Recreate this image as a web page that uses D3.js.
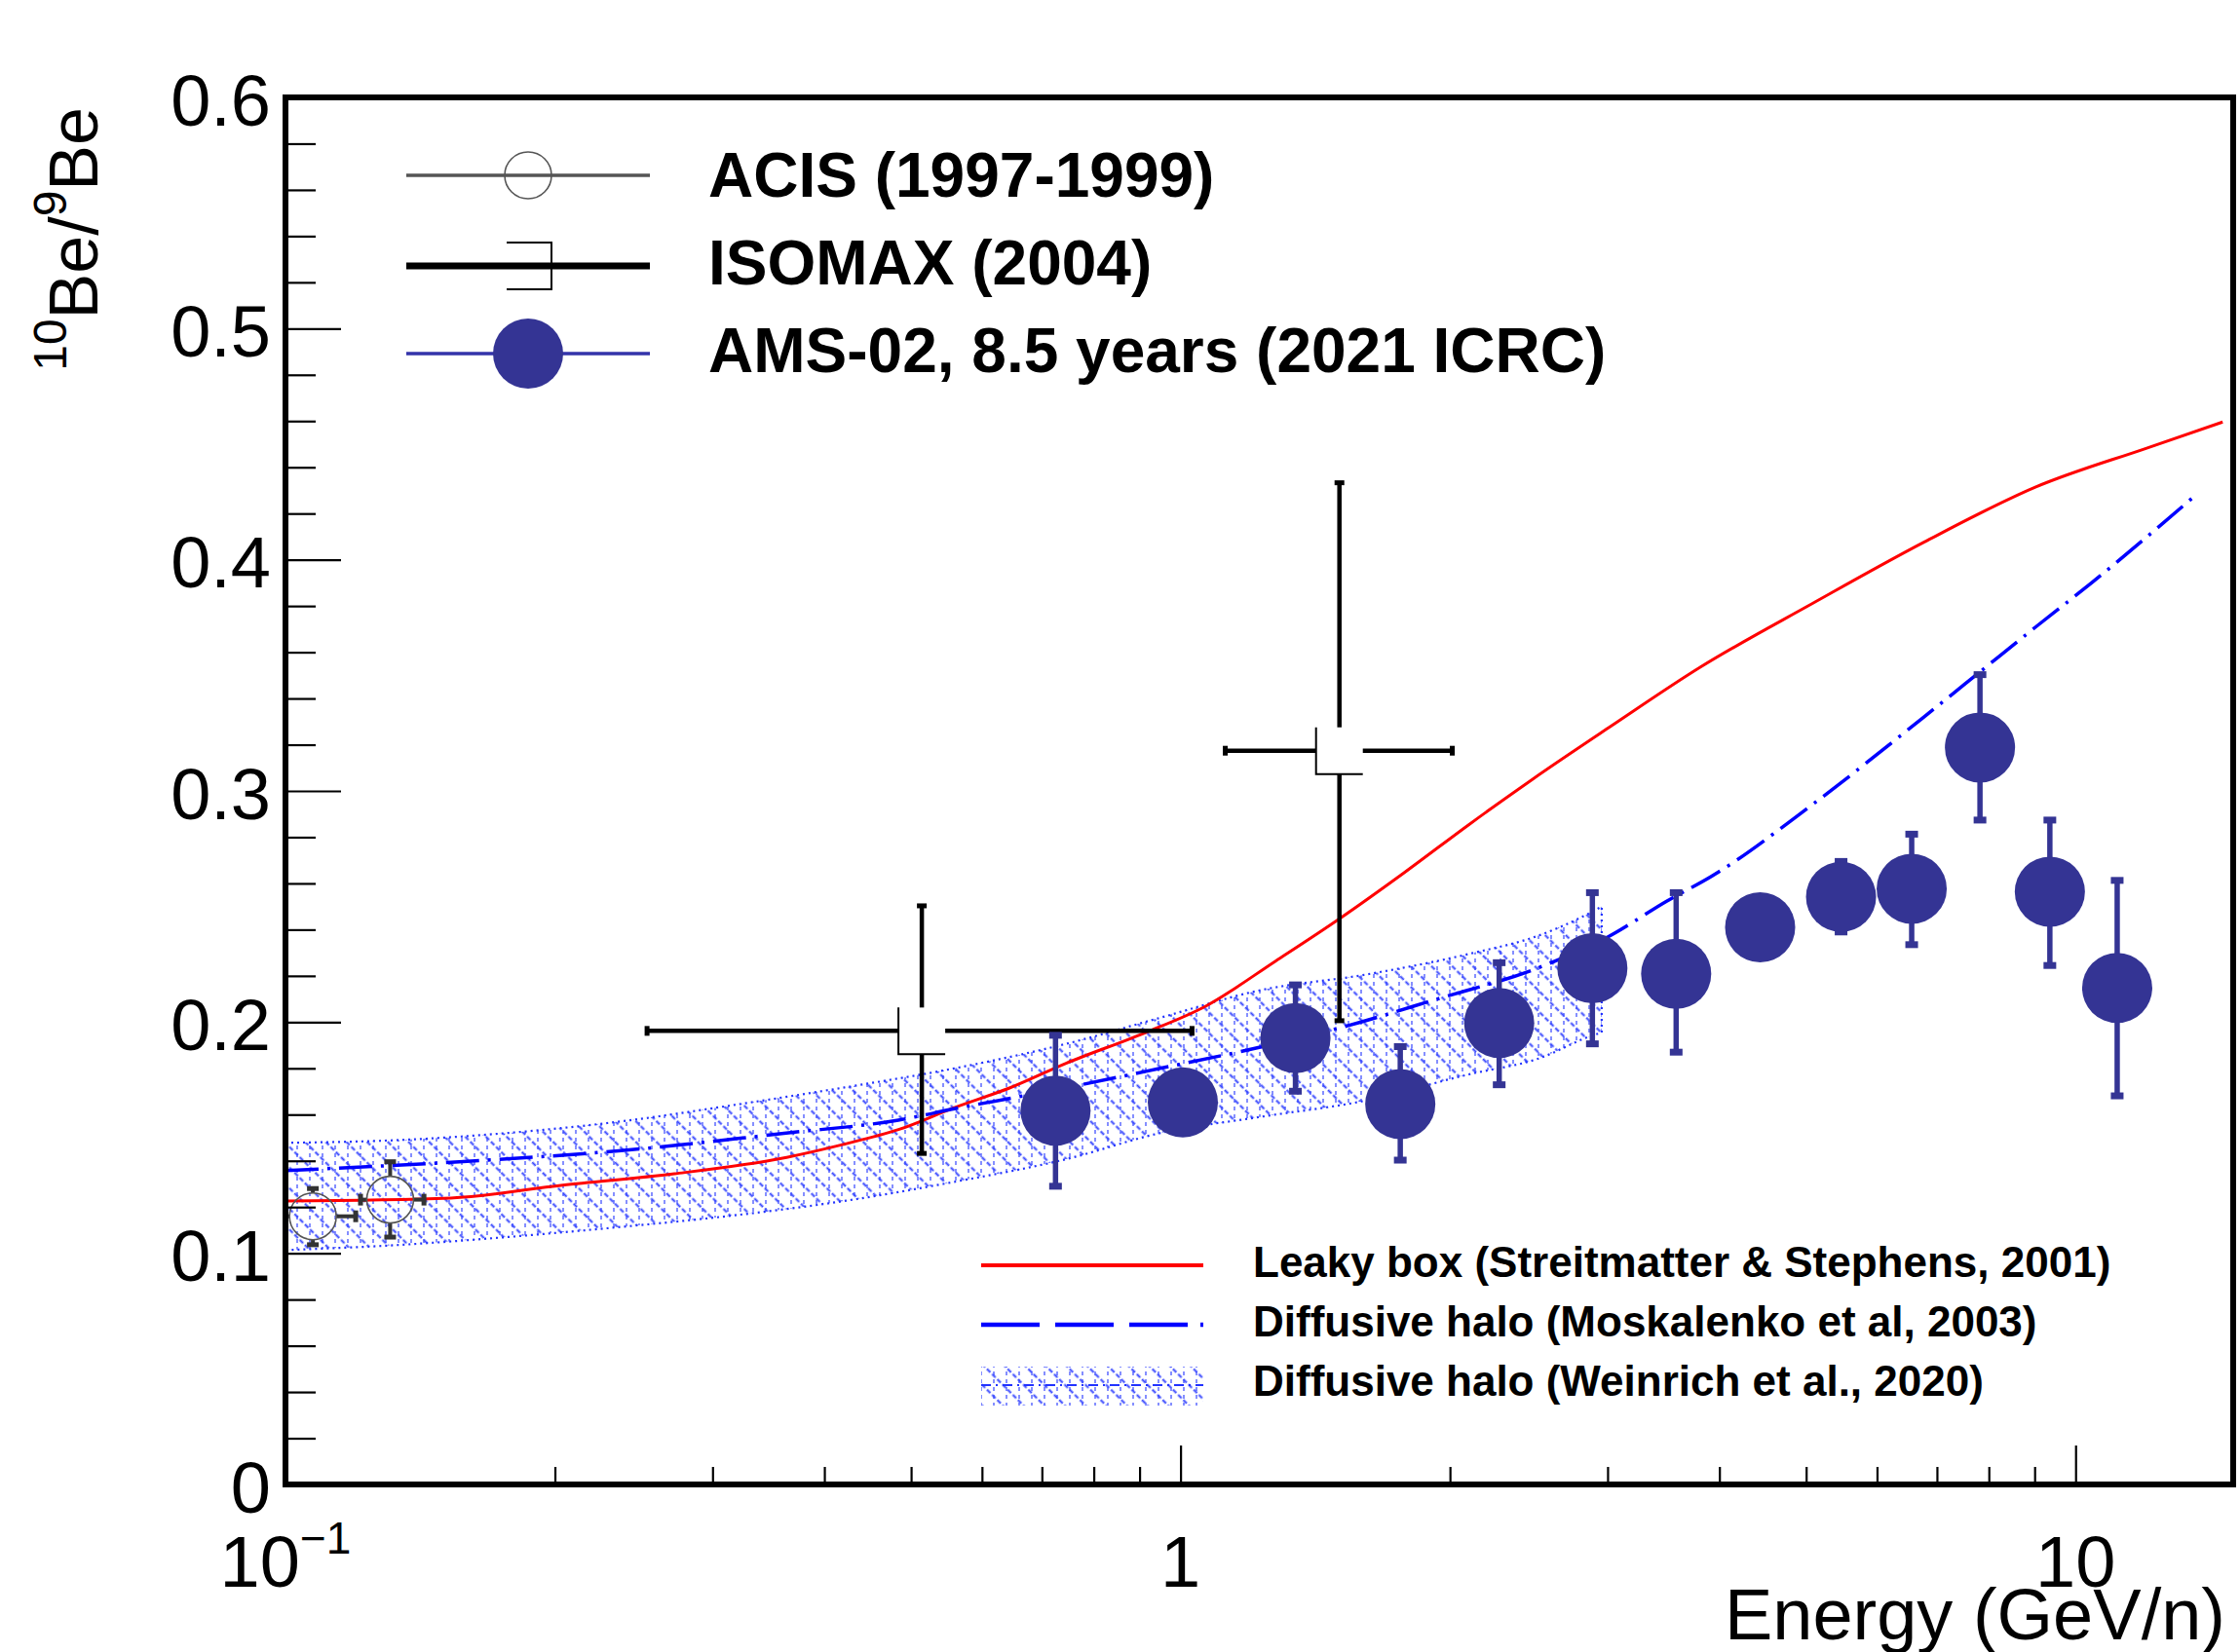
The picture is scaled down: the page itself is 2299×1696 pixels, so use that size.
<!DOCTYPE html>
<html>
<head>
<meta charset="utf-8">
<script src="https://cdn.jsdelivr.net/npm/d3@7"></script>
<style>
  body { margin: 0; background: #fff; }
  svg  { display: block; }
</style>
</head>
<body>
<svg id="chart" width="2299" height="1696"></svg>

<script>

// ---- data ----

// AMS-02, 8.5 years
var amsE  = [0.725, 1.006, 1.344, 1.76, 2.27, 2.885, 3.579, 4.442, 5.47, 6.56, 7.82, 9.36, 11.13];
var amsR  = [0.1617, 0.1653, 0.1931, 0.1645, 0.1996, 0.2233, 0.2209, 0.241, 0.2542, 0.2577, 0.3188, 0.2564, 0.2148];
var amsLo = [0.129, 0.153, 0.1701, 0.1403, 0.1729, 0.1906, 0.187, 0.228, 0.239, 0.2335, 0.2874, 0.2245, 0.1681];
var amsHi = [0.1943, 0.178, 0.2161, 0.1894, 0.2257, 0.256, 0.256, 0.254, 0.2695, 0.2813, 0.3503, 0.2874, 0.2613];

// ISOMAX (2004)
var isoE   = [0.514, 1.505];
var isoR   = [0.1962, 0.3174];
var isoELo = [0.2535, 1.122];
var isoEHi = [1.03, 2.012];
var isoRLo = [0.1432, 0.2006];
var isoRHi = [0.2503, 0.4333];

// ACIS (1997-1999)
var acisE   = [0.1073, 0.1309];
var acisR   = [0.116, 0.1232];
var acisELo = [0.0961, 0.1213];
var acisEHi = [0.1198, 0.1428];
var acisRLo = [0.1037, 0.107];
var acisRHi = [0.128, 0.1396];

// Leaky box (Streitmatter & Stephens, 2001)
var leakyE = [0.1, 0.153, 0.204, 0.272, 0.363, 0.419, 0.484, 0.559, 0.645, 0.745, 0.914, 1.067, 1.277, 1.505, 1.776, 2.101, 2.474, 3.026, 3.807, 5.077, 6.77, 9.03, 12.03, 14.6];
var leakyR = [0.1226, 0.1239, 0.1295, 0.1344, 0.1415, 0.147, 0.1535, 0.163, 0.1716, 0.1822, 0.1955, 0.2069, 0.2264, 0.2447, 0.2645, 0.2855, 0.3051, 0.328, 0.3535, 0.381, 0.4076, 0.4315, 0.4484, 0.4596];

// Diffusive halo (Moskalenko et al, 2003)
var mosE = [0.1, 0.153, 0.2355, 0.3626, 0.4838, 0.559, 0.745, 0.949, 1.228, 1.536, 1.921, 2.515, 3.008, 3.496, 3.918, 5.077, 6.77, 7.82, 9.03, 10.42, 13.69];
var mosR = [0.1358, 0.1394, 0.1443, 0.152, 0.1576, 0.1625, 0.1716, 0.180, 0.1892, 0.1984, 0.2096, 0.2236, 0.237, 0.2524, 0.263, 0.294, 0.332, 0.3515, 0.371, 0.390, 0.4287];

// Diffusive halo (Weinrich et al., 2020) band
var bandE  = [0.1, 0.1324, 0.1766, 0.2355, 0.3139, 0.419, 0.559, 0.745, 0.949, 1.228, 1.607, 2.1, 2.515, 2.875, 2.955];
var bandLo = [0.1014, 0.1035, 0.107, 0.1113, 0.1162, 0.1225, 0.1309, 0.1407, 0.152, 0.159, 0.166, 0.1774, 0.1843, 0.194, 0.1955];
var bandHi = [0.1478, 0.1489, 0.152, 0.1569, 0.1639, 0.1716, 0.180, 0.1906, 0.2019, 0.2138, 0.2205, 0.2295, 0.2375, 0.2475, 0.25];

// axes
var xTickVals = [0.1, 1, 10];
var xTickText = ["10", "1", "10"];
var xTickSup  = ["\u22121", "", ""];
var xMinor    = [0.2, 0.3, 0.4, 0.5, 0.6, 0.7, 0.8, 0.9, 2, 3, 4, 5, 6, 7, 8, 9];
var yTickVals = [0, 0.1, 0.2, 0.3, 0.4, 0.5, 0.6];
var yTickText = ["0", "0.1", "0.2", "0.3", "0.4", "0.5", "0.6"];

var topLegend   = ["ACIS (1997-1999)", "ISOMAX (2004)", "AMS-02, 8.5 years (2021 ICRC)"];
var modelLegend = ["Leaky box (Streitmatter & Stephens, 2001)",
                   "Diffusive halo (Moskalenko et al, 2003)",
                   "Diffusive halo (Weinrich et al., 2020)"];

// ---- layout ----
var FONT = '"Liberation Sans", Arial, Helvetica, sans-serif';
var AMS  = "#343494";
var X0 = 293, X1 = 2292, Y0 = 100, Y1 = 1524;

var svg = d3.select("#chart");
svg.append("rect").attr("width", 2299).attr("height", 1696).attr("fill", "#fff");

var x = d3.scaleLog().domain([0.1, 15]).range([X0, X1]);
var y = d3.scaleLinear().domain([0, 0.6]).range([Y1, Y0]);

var defs = svg.append("defs");
defs.append("clipPath").attr("id", "plotClip")
  .append("rect").attr("x", X0).attr("y", Y0).attr("width", X1 - X0).attr("height", Y1 - Y0);

// hatch: "\" dotted diagonals + vertical dashes
var pDiag = defs.append("pattern").attr("id", "hatchDiag")
    .attr("patternUnits", "userSpaceOnUse").attr("width", 15).attr("height", 15)
    .attr("patternTransform", "rotate(-45)");
pDiag.append("line").attr("x1", 7.5).attr("x2", 7.5).attr("y1", 0).attr("y2", 15)
    .attr("stroke", "#2233ff").attr("stroke-width", 2).attr("stroke-dasharray", "5,2.5");

var pVert = defs.append("pattern").attr("id", "hatchVert")
    .attr("patternUnits", "userSpaceOnUse").attr("width", 13).attr("height", 16);
pVert.append("line").attr("x1", 6).attr("x2", 6).attr("y1", 0).attr("y2", 16)
    .attr("stroke", "#3344ff").attr("stroke-width", 1.6).attr("stroke-dasharray", "4,4");

var plot = svg.append("g").attr("clip-path", "url(#plotClip)");

// ---- Weinrich band ----
var band = bandE.map(function(e, i) { return {e: e, lo: bandLo[i], hi: bandHi[i]}; });
var area = d3.area()
    .curve(d3.curveMonotoneX)
    .x(function(d) { return x(d.e); })
    .y0(function(d) { return y(d.lo); })
    .y1(function(d) { return y(d.hi); });

plot.append("path").datum(band).attr("d", area).attr("fill", "url(#hatchDiag)").attr("opacity", 0.9);
plot.append("path").datum(band).attr("d", area).attr("fill", "url(#hatchVert)").attr("opacity", 0.75);
plot.append("path").datum(band).attr("d", area)
    .attr("fill", "none").attr("stroke", "#2233ff").attr("stroke-width", 2.2)
    .attr("stroke-dasharray", "2,4");

// ---- model curves ----
var line = d3.line()
    .curve(d3.curveMonotoneX)
    .x(function(d) { return x(d[0]); })
    .y(function(d) { return y(d[1]); });

plot.append("path")
    .datum(leakyE.map(function(e, i) { return [e, leakyR[i]]; }))
    .attr("d", line).attr("fill", "none")
    .attr("stroke", "#ff0000").attr("stroke-width", 3);

plot.append("path")
    .datum(mosE.map(function(e, i) { return [e, mosR[i]]; }))
    .attr("d", line).attr("fill", "none")
    .attr("stroke", "#0000ff").attr("stroke-width", 3.5)
    .attr("stroke-dasharray", "34,9,3,9");

// ---- ACIS: open circles, bars stop at the marker ----
var RA = 24;
var acis = acisE.map(function(e, i) {
  return {e: e, r: acisR[i], eLo: acisELo[i], eHi: acisEHi[i], rLo: acisRLo[i], rHi: acisRHi[i]};
});
var acisSeg = [], acisCap = [];
acis.forEach(function(d) {
  var cx = x(d.e), cy = y(d.r);
  acisSeg.push([cx, cy - RA, cx, y(d.rHi)], [cx, cy + RA, cx, y(d.rLo)],
               [cx - RA, cy, x(d.eLo), cy], [cx + RA, cy, x(d.eHi), cy]);
  acisCap.push({x: cx, y: y(d.rHi), v: true}, {x: cx, y: y(d.rLo), v: true},
               {x: x(d.eLo), y: cy, v: false}, {x: x(d.eHi), y: cy, v: false});
});
var gAcis = plot.append("g");
gAcis.selectAll("line").data(acisSeg).join("line")
    .attr("x1", function(s) { return s[0]; }).attr("y1", function(s) { return s[1]; })
    .attr("x2", function(s) { return s[2]; }).attr("y2", function(s) { return s[3]; })
    .attr("stroke", "#333").attr("stroke-width", 4);
gAcis.selectAll("rect").data(acisCap).join("rect")
    .attr("x", function(c) { return c.v ? c.x - 6 : c.x - 2.5; })
    .attr("y", function(c) { return c.v ? c.y - 2.5 : c.y - 6; })
    .attr("width",  function(c) { return c.v ? 12 : 5; })
    .attr("height", function(c) { return c.v ? 5 : 12; })
    .attr("fill", "#333");
gAcis.selectAll("circle").data(acis).join("circle")
    .attr("cx", function(d) { return x(d.e); }).attr("cy", function(d) { return y(d.r); })
    .attr("r", RA).attr("fill", "none").attr("stroke", "#555").attr("stroke-width", 1.6);

// ---- ISOMAX: bars + open square ----
var SQ = 48;
var iso = isoE.map(function(e, i) {
  return {e: e, r: isoR[i], eLo: isoELo[i], eHi: isoEHi[i], rLo: isoRLo[i], rHi: isoRHi[i]};
});
var gIso = plot.append("g");
gIso.selectAll("line.v").data(iso).join("line").attr("class", "v")
    .attr("x1", function(d) { return x(d.e); }).attr("x2", function(d) { return x(d.e); })
    .attr("y1", function(d) { return y(d.rLo); }).attr("y2", function(d) { return y(d.rHi); })
    .attr("stroke", "#000").attr("stroke-width", 4.5);
gIso.selectAll("line.h").data(iso).join("line").attr("class", "h")
    .attr("x1", function(d) { return x(d.eLo); }).attr("x2", function(d) { return x(d.eHi); })
    .attr("y1", function(d) { return y(d.r); }).attr("y2", function(d) { return y(d.r); })
    .attr("stroke", "#000").attr("stroke-width", 4.5);
var isoCap = [];
iso.forEach(function(d) {
  isoCap.push({x: x(d.e), y: y(d.rHi), v: true}, {x: x(d.e), y: y(d.rLo), v: true},
              {x: x(d.eLo), y: y(d.r), v: false}, {x: x(d.eHi), y: y(d.r), v: false});
});
gIso.selectAll("rect.cap").data(isoCap).join("rect").attr("class", "cap")
    .attr("x", function(c) { return c.v ? c.x - 5 : c.x - 2.5; })
    .attr("y", function(c) { return c.v ? c.y - 2.5 : c.y - 5; })
    .attr("width",  function(c) { return c.v ? 10 : 5; })
    .attr("height", function(c) { return c.v ? 5 : 10; })
    .attr("fill", "#000");
gIso.selectAll("rect.sq").data(iso).join("rect").attr("class", "sq")
    .attr("x", function(d) { return x(d.e) - SQ / 2; }).attr("y", function(d) { return y(d.r) - SQ / 2; })
    .attr("width", SQ).attr("height", SQ).attr("fill", "#fff");
gIso.selectAll("path.sq").data(iso).join("path").attr("class", "sq")
    .attr("d", function(d) {
      var cx = x(d.e), cy = y(d.r);
      return "M" + (cx - SQ / 2) + "," + (cy - SQ / 2) + "V" + (cy + SQ / 2) + "H" + (cx + SQ / 2);
    })
    .attr("fill", "none").attr("stroke", "#000").attr("stroke-width", 2);

// ---- AMS-02 ----
var ams = amsE.map(function(e, i) { return {e: e, r: amsR[i], lo: amsLo[i], hi: amsHi[i]}; });
var gAms = plot.append("g");
gAms.selectAll("line").data(ams).join("line")
    .attr("x1", function(d) { return x(d.e); }).attr("x2", function(d) { return x(d.e); })
    .attr("y1", function(d) { return y(d.lo); }).attr("y2", function(d) { return y(d.hi); })
    .attr("stroke", AMS).attr("stroke-width", 5.5);
gAms.selectAll("rect").data(ams.flatMap(function(d) { return [{e: d.e, v: d.lo}, {e: d.e, v: d.hi}]; }))
  .join("rect")
    .attr("x", function(c) { return x(c.e) - 6.5; }).attr("y", function(c) { return y(c.v) - 3.5; })
    .attr("width", 13).attr("height", 7).attr("fill", AMS);
gAms.selectAll("circle").data(ams).join("circle")
    .attr("cx", function(d) { return x(d.e); }).attr("cy", function(d) { return y(d.r); })
    .attr("r", 36).attr("fill", AMS);

// ---- axes ----
var gx = svg.append("g").attr("transform", "translate(0," + Y1 + ")")
    .call(d3.axisBottom(x).tickValues(xTickVals).tickSize(-40).tickFormat(""));
gx.select(".domain").remove();
var gxm = svg.append("g").attr("transform", "translate(0," + Y1 + ")")
    .call(d3.axisBottom(x).tickValues(xMinor).tickSize(-18).tickFormat(""));
gxm.select(".domain").remove();

var xl = svg.append("g").selectAll("text").data(xTickVals).join("text")
    .attr("x", function(d) { return x(d); }).attr("y", 1629)
    .attr("text-anchor", "middle")
    .attr("font-family", FONT).attr("font-size", 74).attr("fill", "#000");
xl.append("tspan").text(function(d, i) { return xTickText[i]; });
xl.append("tspan").attr("dy", -34).attr("font-size", 46)
    .text(function(d, i) { return xTickSup[i]; });

var yMinor = d3.range(0.02, 0.6, 0.02).filter(function(v) { return Math.abs(v * 10 - Math.round(v * 10)) > 1e-6; });
var gy = svg.append("g").attr("transform", "translate(" + X0 + ",0)")
    .call(d3.axisLeft(y).tickValues(yTickVals).tickSize(-57).tickPadding(15)
      .tickFormat(function(d, i) { return yTickText[i]; }));
gy.select(".domain").remove();
gy.attr("font-family", FONT).attr("font-size", 74);
gy.selectAll(".tick text").attr("dy", "0.38em").attr("fill", "#000");
var gym = svg.append("g").attr("transform", "translate(" + X0 + ",0)")
    .call(d3.axisLeft(y).tickValues(yMinor).tickSize(-31).tickFormat(""));
gym.select(".domain").remove();
svg.selectAll(".tick line").attr("stroke-width", 2.2);

// frame
svg.append("rect").attr("x", X0).attr("y", Y0).attr("width", X1 - X0).attr("height", Y1 - Y0)
    .attr("fill", "none").attr("stroke", "#000").attr("stroke-width", 6);

// axis titles
svg.append("text")
    .attr("x", 2284).attr("y", 1683).attr("text-anchor", "end")
    .attr("font-family", FONT).attr("font-size", 74).attr("fill", "#000")
    .text("Energy (GeV/n)");

var yt = svg.append("text")
    .attr("transform", "translate(100,110) rotate(-90)")
    .attr("text-anchor", "end")
    .attr("font-family", FONT).attr("font-size", 70).attr("fill", "#000");
yt.append("tspan").attr("font-size", 48).attr("dy", -32).text("10");
yt.append("tspan").attr("dy", 32).text("Be/");
yt.append("tspan").attr("font-size", 48).attr("dy", -32).text("9");
yt.append("tspan").attr("dy", 32).text("Be");

// ---- top legend (data points) ----
var lg = svg.append("g");
var lgY = [180, 273, 363];
lg.append("line").attr("x1", 417).attr("x2", 667).attr("y1", lgY[0]).attr("y2", lgY[0])
    .attr("stroke", "#555").attr("stroke-width", 3.5);
lg.append("circle").attr("cx", 542).attr("cy", lgY[0]).attr("r", 24)
    .attr("fill", "none").attr("stroke", "#555").attr("stroke-width", 1.6);
lg.append("line").attr("x1", 417).attr("x2", 667).attr("y1", lgY[1]).attr("y2", lgY[1])
    .attr("stroke", "#000").attr("stroke-width", 7);
lg.append("path")
    .attr("d", "M520," + (lgY[1] - 24) + "H566V" + (lgY[1] + 24) + "H520")
    .attr("fill", "none").attr("stroke", "#000").attr("stroke-width", 2);
lg.append("line").attr("x1", 417).attr("x2", 667).attr("y1", lgY[2]).attr("y2", lgY[2])
    .attr("stroke", "#3333aa").attr("stroke-width", 3.5);
lg.append("circle").attr("cx", 542).attr("cy", lgY[2]).attr("r", 36).attr("fill", AMS);

lg.selectAll("text").data(topLegend).join("text")
    .attr("x", 727).attr("y", function(d, i) { return [202, 292, 382][i]; })
    .attr("font-family", FONT).attr("font-size", 64).attr("font-weight", "bold").attr("fill", "#000")
    .text(function(d) { return d; });

// ---- bottom legend (models) ----
var ml = svg.append("g");
ml.append("line").attr("x1", 1007).attr("x2", 1235).attr("y1", 1299).attr("y2", 1299)
    .attr("stroke", "#ff0000").attr("stroke-width", 4);
ml.append("line").attr("x1", 1007).attr("x2", 1235).attr("y1", 1360).attr("y2", 1360)
    .attr("stroke", "#0000ff").attr("stroke-width", 4.5)
    .attr("stroke-dasharray", "60,16,60,16,60,13,4,100");
ml.append("rect").attr("x", 1007).attr("y", 1403).attr("width", 228).attr("height", 40)
    .attr("fill", "url(#hatchDiag)").attr("opacity", 0.9);
ml.append("rect").attr("x", 1007).attr("y", 1403).attr("width", 228).attr("height", 40)
    .attr("fill", "url(#hatchVert)").attr("opacity", 0.75);
ml.append("line").attr("x1", 1007).attr("x2", 1235).attr("y1", 1422).attr("y2", 1422)
    .attr("stroke", "#2233ff").attr("stroke-width", 2).attr("stroke-dasharray", "10,5,2,5");

ml.selectAll("text").data(modelLegend).join("text")
    .attr("x", 1286).attr("y", function(d, i) { return [1311, 1372, 1433][i]; })
    .attr("font-family", FONT).attr("font-size", 44).attr("font-weight", "bold").attr("fill", "#000")
    .text(function(d) { return d; });

</script>
</body>
</html>
